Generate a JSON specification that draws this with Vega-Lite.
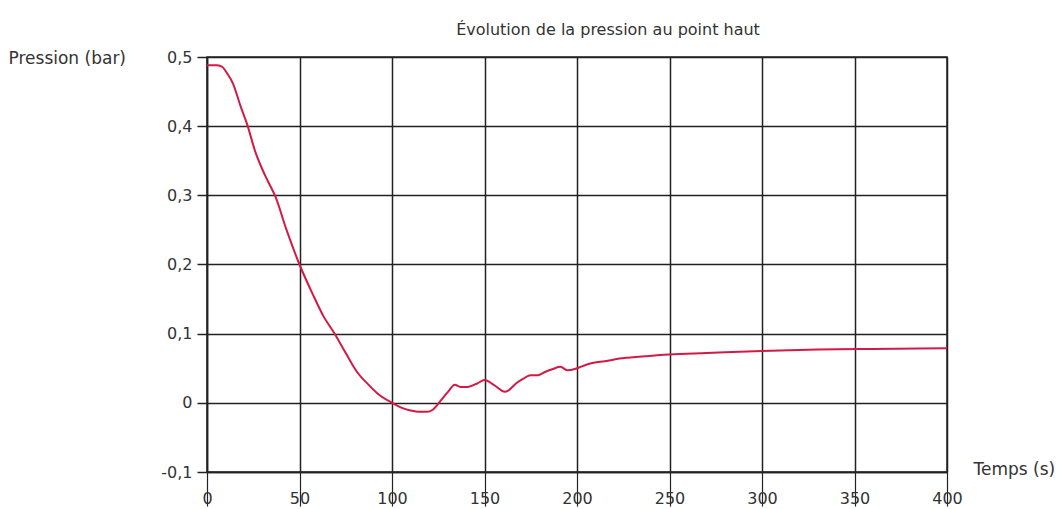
{
  "$schema": "https://vega.github.io/schema/vega-lite/v6.json",
  "autosize": "none",
  "width": 740,
  "height": 415,
  "padding": {"left": 207, "top": 57, "right": 117, "bottom": 37},
  "background": "white",
  "config": {
    "font": "DejaVu Sans",
    "view": {"stroke": "#222", "strokeWidth": 1.5}
  },
  "title": {
    "text": "Évolution de la pression au point haut",
    "fontSize": 16,
    "fontWeight": "normal",
    "color": "#333",
    "anchor": "middle",
    "dx": 31,
    "offset": 11
  },
  "data": {
    "values": [
      {"t": 0, "p": 0.488}, {"t": 5, "p": 0.488}, {"t": 8, "p": 0.486},
      {"t": 11, "p": 0.476}, {"t": 14, "p": 0.462}, {"t": 18, "p": 0.43},
      {"t": 22, "p": 0.40}, {"t": 26, "p": 0.364}, {"t": 30, "p": 0.337},
      {"t": 33, "p": 0.32}, {"t": 37, "p": 0.298}, {"t": 43, "p": 0.25},
      {"t": 50, "p": 0.2}, {"t": 57, "p": 0.158}, {"t": 63, "p": 0.125},
      {"t": 69, "p": 0.1}, {"t": 75, "p": 0.072}, {"t": 81, "p": 0.045},
      {"t": 87, "p": 0.027}, {"t": 92, "p": 0.014}, {"t": 100, "p": 0.0},
      {"t": 105, "p": -0.007}, {"t": 110, "p": -0.011}, {"t": 115, "p": -0.013},
      {"t": 119, "p": -0.013}, {"t": 122, "p": -0.01}, {"t": 126, "p": 0.002},
      {"t": 130, "p": 0.015}, {"t": 134, "p": 0.026}, {"t": 137, "p": 0.023},
      {"t": 141, "p": 0.023}, {"t": 146, "p": 0.028}, {"t": 150, "p": 0.033},
      {"t": 155, "p": 0.026}, {"t": 161, "p": 0.016}, {"t": 163, "p": 0.018},
      {"t": 167, "p": 0.028}, {"t": 171, "p": 0.035}, {"t": 175, "p": 0.04},
      {"t": 179, "p": 0.04}, {"t": 183, "p": 0.045}, {"t": 187, "p": 0.049},
      {"t": 191, "p": 0.052}, {"t": 195, "p": 0.047}, {"t": 200, "p": 0.05},
      {"t": 205, "p": 0.055}, {"t": 209, "p": 0.058}, {"t": 215, "p": 0.06},
      {"t": 223, "p": 0.064}, {"t": 235, "p": 0.067}, {"t": 250, "p": 0.07},
      {"t": 270, "p": 0.072}, {"t": 300, "p": 0.075}, {"t": 330, "p": 0.077},
      {"t": 360, "p": 0.078}, {"t": 400, "p": 0.079}
    ]
  },
  "mark": {"type": "line", "color": "#d31a45", "strokeWidth": 2, "interpolate": "monotone"},
  "encoding": {
    "x": {
      "field": "t",
      "type": "quantitative",
      "scale": {"domain": [0, 400], "nice": false},
      "axis": {
        "values": [0, 50, 100, 150, 200, 250, 300, 350, 400],
        "title": "Temps (s)",
        "titleFontSize": 17,
        "titleFontWeight": "normal",
        "titleColor": "#333",
        "titleAlign": "left",
        "titleBaseline": "middle",
        "titleAnchor": "start",
        "titleX": 766,
        "titleY": -3,
        "labelFontSize": 16,
        "labelColor": "#333",
        "labelFlush": false,
        "labelPadding": -16,
        "tickSize": 34,
        "tickColor": "#222",
        "tickWidth": 1.2,
        "domainColor": "#222",
        "domainWidth": 1.5,
        "grid": true,
        "gridColor": "#222",
        "gridWidth": 1.5,
        "gridOpacity": 1
      }
    },
    "y": {
      "field": "p",
      "type": "quantitative",
      "scale": {"domain": [-0.1, 0.5], "nice": false},
      "axis": {
        "values": [-0.1, 0, 0.1, 0.2, 0.3, 0.4, 0.5],
        "labelExpr": "datum.value == 0 ? '0' : (datum.value < 0 ? '-' : '') + replace(format(abs(datum.value), '.1f'), '.', ',')",
        "title": "Pression (bar)",
        "titleFontSize": 17,
        "titleFontWeight": "normal",
        "titleColor": "#333",
        "titleAngle": 0,
        "titleAlign": "left",
        "titleBaseline": "middle",
        "titleAnchor": "start",
        "titleX": -199,
        "titleY": 1,
        "labelFontSize": 16,
        "labelColor": "#333",
        "labelFlush": false,
        "labelPadding": 5,
        "tickSize": 10,
        "tickColor": "#222",
        "tickWidth": 1.5,
        "domainColor": "#222",
        "domainWidth": 1.5,
        "grid": true,
        "gridColor": "#222",
        "gridWidth": 1.5,
        "gridOpacity": 1
      }
    }
  }
}
